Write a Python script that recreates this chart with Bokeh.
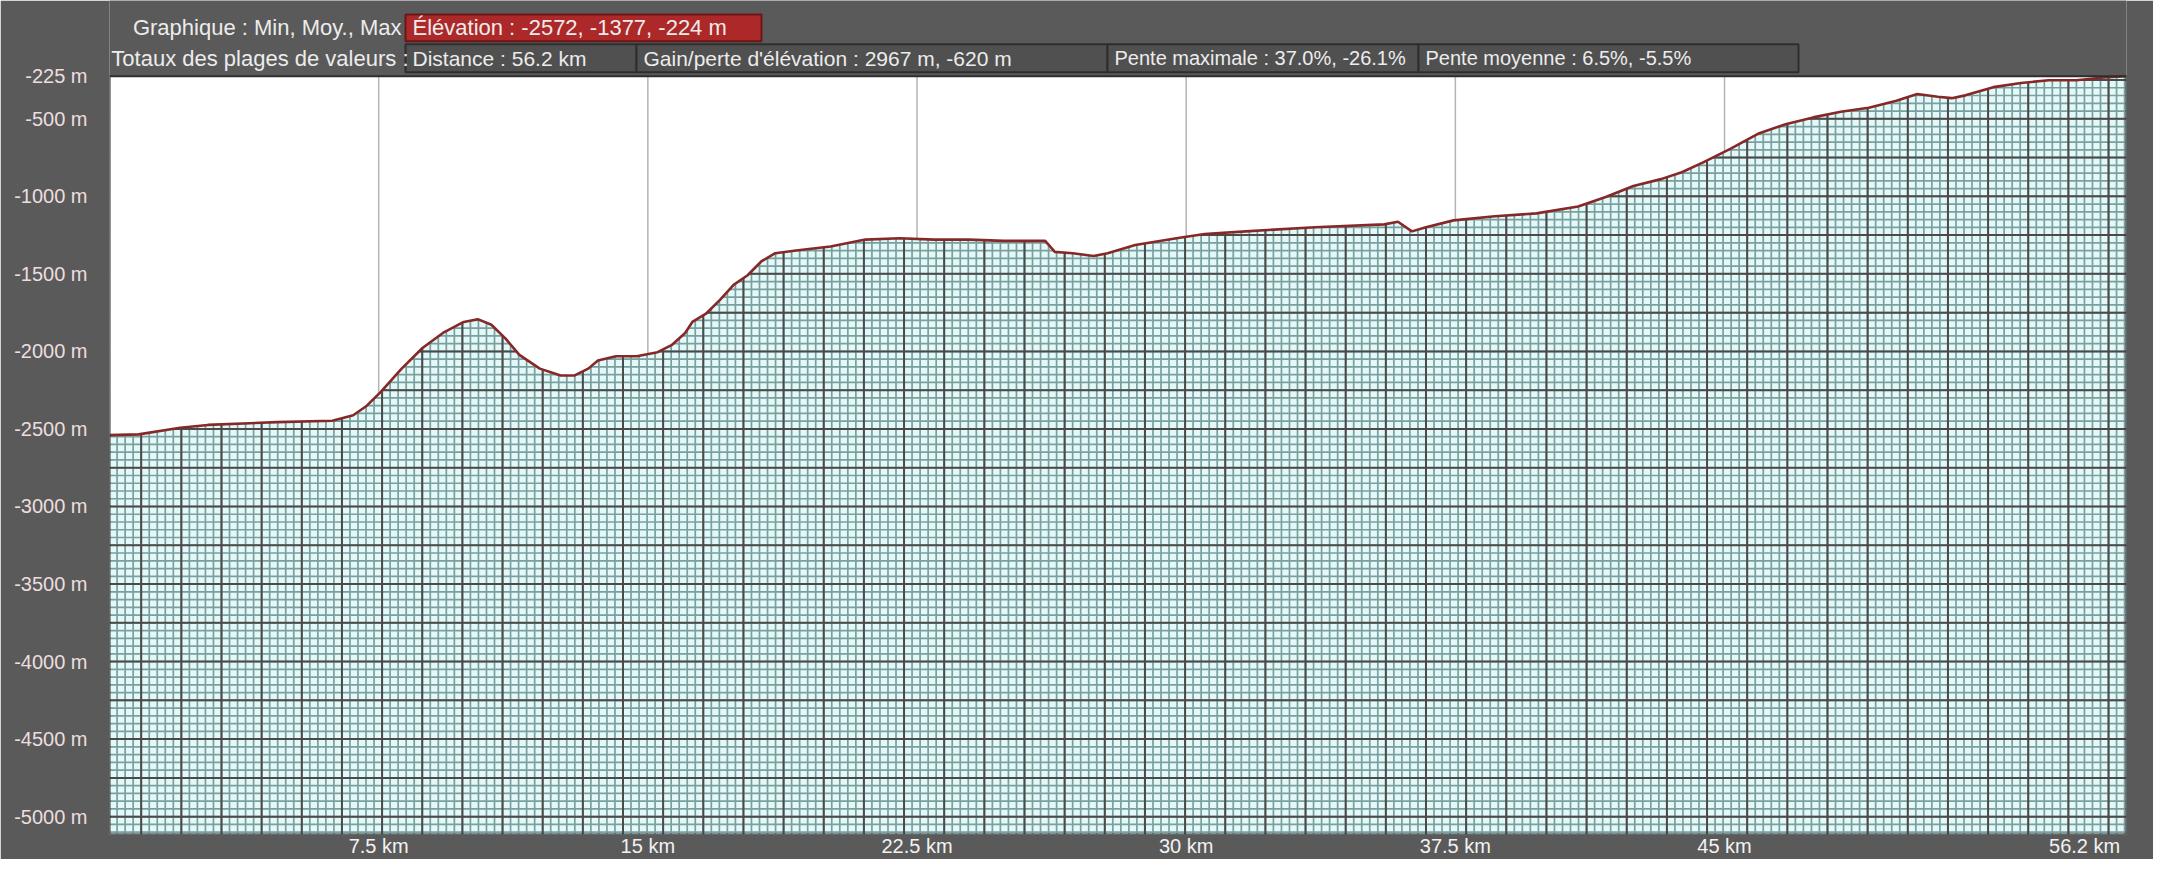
import numpy as np
from bokeh.plotting import figure
from bokeh.models import Range1d, FixedTicker, PrintfTickFormatter
from bokeh.core.properties import value
from bokeh.embed import file_html
from bokeh.resources import INLINE

# ---------------- data ----------------
dist_km = [0, 0.81, 1.97, 2.74, 4.67, 6.21, 6.79, 7.17, 7.56, 8.14,
           8.72, 9.29, 9.87, 10.26, 10.64, 11.03, 11.42, 11.99, 12.57, 12.96,
           13.34, 13.61, 14.11, 14.69, 15.27, 15.66, 16.04, 16.24, 16.62, 17.01,
           17.39, 17.78, 18.16, 18.55, 19.13, 20.09, 21.06, 22.02, 22.98, 23.95,
           24.91, 26.07, 26.34, 26.84, 27.42, 27.81, 28.58, 29.73, 30.51, 31.66,
           33.59, 35.52, 35.90, 36.29, 36.68, 37.45, 38.60, 39.76, 40.92, 41.69,
           42.46, 43.23, 43.81, 44.39, 45.16, 45.93, 46.70, 47.47, 48.24, 49.02,
           49.79, 50.37, 50.94, 51.33, 51.71, 52.49, 53.26, 54.03, 54.80, 55.57,
           56.2]
elev_m = [-2540, -2535, -2492, -2474, -2456, -2447, -2412, -2350, -2261, -2111,
          -1978, -1881, -1810, -1792, -1828, -1916, -2022, -2111, -2155, -2155,
          -2111, -2058, -2031, -2031, -2005, -1960, -1881, -1810, -1757, -1668,
          -1571, -1509, -1420, -1367, -1349, -1323, -1279, -1270, -1279, -1279,
          -1287, -1287, -1358, -1367, -1385, -1367, -1314, -1270, -1243, -1226,
          -1199, -1181, -1164, -1226, -1199, -1155, -1128, -1110, -1066, -1004,
          -933, -889, -845, -783, -694, -597, -535, -491, -455, -429,
          -384, -340, -358, -367, -349, -296, -269, -252, -252, -234,
          -225]
x_ticks = [7.5, 15, 22.5, 30, 37.5, 45, 56.2]
y_ticks = [-225, -500, -1000, -1500, -2000, -2500, -3000, -3500, -4000, -4500, -5000]

header_row1_label = "Graphique : Min, Moy., Max"
header_row1_box = "Élévation : -2572, -1377, -224 m"
header_row2_label = "Totaux des plages de valeurs :"
header_row2_boxes = ["Distance : 56.2 km",
                     "Gain/perte d'élévation : 2967 m, -620 m",
                     "Pente maximale : 37.0%, -26.1%",
                     "Pente moyenne : 6.5%, -5.5%"]

# ---------------- layout (pixels) ----------------
W, H = 2153, 859
ML, MR, MB = 109, 27, 21
PLOT_TOP = 76                      # pixel row of the top of the profile area
FW = W - ML - MR
FH = H - MB                        # frame spans from canvas top to bottom border
X_LO, X_HI = 0, 56.2
Y_LO, Y_HI = -5115, -225
ppm = (FH - PLOT_TOP) / (Y_HI - Y_LO)
Y_TOP = Y_HI + PLOT_TOP / ppm      # frame extends above the plot area for the header
ppk = FW / (X_HI - X_LO)

BG = "#5a5a5a"
FONT = "Liberation Sans"

p = figure(width=W, height=H, output_backend="svg", toolbar_location=None,
           x_range=Range1d(X_LO, X_HI), y_range=Range1d(Y_LO, Y_TOP),
           min_border_left=ML, min_border_right=MR, min_border_top=0, min_border_bottom=MB,
           background_fill_color=BG, border_fill_color=BG)
p.outline_line_color = None
p.xgrid.visible = False
p.ygrid.visible = False

# plot area
p.quad(left=X_LO, right=X_HI, bottom=Y_LO, top=Y_HI, fill_color="#e4f8f8", line_color=None)

# graph-paper grid
xstep = 40.15 / ppk
x0 = 0.883
xs_major = np.arange(x0 - xstep * 2, X_HI + xstep, xstep)
xs_minor = np.arange(x0 - xstep * 2, X_HI + xstep, xstep / 5)
xs_major = xs_major[(xs_major > X_LO) & (xs_major < X_HI)]
xs_minor = xs_minor[(xs_minor > X_LO) & (xs_minor < X_HI)]
ys_minor = np.arange(-5250, Y_HI, 50)
ys_major = np.arange(-5250, Y_HI, 250)
ys_minor = ys_minor[(ys_minor > Y_LO) & (ys_minor < Y_HI)]
ys_major = ys_major[(ys_major > Y_LO) & (ys_major < Y_HI)]

minor_col = "#7a9f9f"
major_col = "#4a4a4a"
p.segment(x0=xs_minor, x1=xs_minor, y0=Y_LO, y1=Y_HI, line_color=minor_col, line_width=1.7)
p.segment(x0=X_LO, x1=X_HI, y0=ys_minor, y1=ys_minor, line_color=minor_col, line_width=1.7)
p.segment(x0=xs_major, x1=xs_major, y0=Y_LO, y1=Y_HI, line_color=major_col, line_width=2)
p.segment(x0=X_LO, x1=X_HI, y0=ys_major, y1=ys_major, line_color=major_col, line_width=2)

# white area above profile
patch_x = list(dist_km) + [dist_km[-1], dist_km[0]]
patch_y = list(elev_m) + [Y_HI, Y_HI]
p.patch(patch_x, patch_y, fill_color="white", line_color=None)

# distance tick lines above profile
vt = [t for t in x_ticks if t < X_HI]
vy0 = np.interp(vt, dist_km, elev_m)
p.segment(x0=vt, x1=vt, y0=vy0, y1=Y_HI, line_color="#b4b4b4", line_width=1.5)

# profile line
p.line(dist_km, elev_m, line_color="#862828", line_width=2.6)

# plot area border
p.quad(left=X_LO, right=X_HI, bottom=Y_LO, top=Y_HI, fill_color=None,
       line_color="#2e2e2e", line_width=2)

# axes
p.xaxis.ticker = FixedTicker(ticks=x_ticks)
p.xaxis.formatter = PrintfTickFormatter(format="%g km")
p.xaxis.major_label_overrides = {56.2: "56.2 km" + "\u00a0" * 6}
p.yaxis.ticker = FixedTicker(ticks=y_ticks)
p.yaxis.formatter = PrintfTickFormatter(format="%d m")
for ax in (p.xaxis, p.yaxis):
    ax.axis_line_color = None
    ax.major_tick_line_color = None
    ax.minor_tick_line_color = None
    ax.major_tick_out = 0
    ax.major_tick_in = 0
    ax.major_label_text_font = FONT
    ax.major_label_text_font_size = "20px"
p.xaxis.major_label_text_color = "#f2f2f2"
p.yaxis.major_label_text_color = "#ecdede"
p.xaxis.major_label_standoff = 0
p.yaxis.major_label_standoff = 22

# ---------------- header ----------------
def dx(X):
    return X_LO + (X - ML) / ppk

def dy(Y):
    return Y_TOP - Y / ppm

def box(x_left, x_right, y_top, y_bot, fill, line):
    p.quad(left=dx(x_left), right=dx(x_right), top=dy(y_top), bottom=dy(y_bot),
           fill_color=fill, line_color=line, line_width=2)

def label(x, y, text, align="left", size="22px", color="#ececec"):
    p.text(x=[dx(x)], y=[dy(y)], text=[text], text_align=align, text_baseline="middle",
           text_font=value(FONT), text_font_size=size, text_color=color)

# row 1
box(405, 761, 14, 41, "#ad2828", "#6a1616")
label(401, 27.5, header_row1_label, align="right")
label(412, 27.5, header_row1_box)
# row 2
edges = [405, 636, 1107, 1418, 1798]
for i, t in enumerate(header_row2_boxes):
    box(edges[i], edges[i + 1], 44, 72, "#505050", "#2e2e2e")
    label(edges[i] + 7, 58, t, size="21px" if i < 2 else "20px")
label(408, 58, header_row2_label, align="right")

open("out.html", "w").write(file_html(p, INLINE))
